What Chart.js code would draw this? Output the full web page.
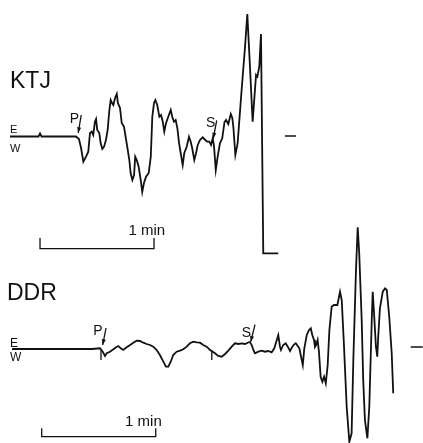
<!DOCTYPE html>
<html>
<head>
<meta charset="utf-8">
<script src="https://cdn.jsdelivr.net/npm/chart.js@4/dist/chart.umd.min.js"></script>
<style>
  html, body { margin: 0; padding: 0; background: #fff; }
  #wrap { width: 423px; height: 443px; }
</style>
</head>
<body>
<div id="wrap"><canvas id="seis" width="423" height="443"></canvas></div>
<script>
/* ── Datos ── */
// tiempo (s) desde el inicio del registro, amplitud sobre la línea base
const KTJ_T = [0, 15, 15.8, 16.6, 34.7, 36.3, 37.4, 38.6, 40.0, 41.2,
  42.1, 43.0, 43.8, 44.7, 45.3, 45.9, 47.0, 47.7, 48.6, 49.5,
  50.5, 51.4, 52.3, 53.0, 53.7, 54.4, 55.3, 56.2, 56.8, 57.9,
  58.8, 60.0, 60.7, 61.7, 62.8, 63.5, 64.4, 65.3, 65.9, 66.7,
  67.7, 68.8, 69.6, 70.5, 71.6, 73.0, 74.1, 74.9, 75.8, 76.5,
  77.5, 78.6, 79.5, 80.4, 81.2, 82.1, 83.3, 84.6, 85.4, 86.3,
  87.2, 88.1, 89.0, 90.0, 90.9, 91.7, 93.0, 94.2, 95.1, 95.9,
  97.0, 97.9, 98.8, 100.0, 101.4, 102.8, 103.8, 104.9, 105.8, 106.7,
  107.4, 108.3, 109.3, 110.5, 111.7, 112.9, 113.7, 114.9, 116.2, 117.0,
  117.6, 118.6, 119.8, 121.9, 123.7, 124.9, 126.3, 127.7, 129.5, 130.2,
  131.2, 132.1, 133.3, 141.2];
const KTJ_A = [0, 0, 3, 0, 0, -2.5, -11.5, -25.2, -20.2, -15.2,
  3.5, 4.8, 1.5, 14.8, 17.5, 6.5, 3.5, -6.5, -12.5, -10.2,
  -3.5, 6.5, 26.5, 36.5, 33.5, 31.5, 38.5, 42.5, 33.5, 28.5,
  13.5, 9.8, 1.5, -10.2, -23.5, -36.5, -43.5, -38.5, -20.2, -23.5,
  -30.2, -43.5, -55.5, -46.5, -40.2, -36.5, -20.2, 19.8, 33.5, 36.5,
  31.5, 19.8, 21.5, 14.8, 4.8, 13.2, 19.8, 26.5, 19.8, 14.8,
  16.5, 8.2, -6.8, -18.5, -28.5, -16.8, -10.2, -0.2, -5.2, -11.8,
  -23.5, -16.8, -8.5, -3.5, -0.8, -3.5, -5.2, -5.2, -8.5, -1.8,
  -10.2, -33.5, -20.2, -6.8, -1.8, 14.5, 16.5, 12.5, 22.5, 18.5,
  8.5, -18.5, -6.8, 46.5, 89.8, 122.5, 69.8, 14.8, 61.5, 59.8,
  69.8, 102.5, -116.8, -116.8];

const DDR_T = [1.1, 43.2, 47.4, 48.8, 50.0, 50.9, 52.6, 54.4, 55.8, 57.0,
  58.3, 59.6, 61.4, 63.2, 64.9, 66.7, 68.4, 70.2, 71.9, 73.7,
  75.4, 77.2, 78.9, 80.7, 82.1, 83.3, 84.6, 85.9, 87.7, 89.5,
  91.2, 93.0, 94.7, 96.5, 98.3, 100.0, 101.7, 103.5, 105.3, 107.9,
  109.6, 111.4, 113.2, 114.9, 116.7, 118.4, 120.2, 121.9, 123.7, 125.4,
  126.3, 127.2, 128.1, 128.9, 130.7, 132.5, 134.2, 135.9, 137.7, 139.1,
  140.4, 141.2, 142.1, 142.6, 143.8, 145.1, 146.2, 147.4, 148.6, 149.6,
  150.4, 152.3, 153.2, 154.1, 154.9, 156.2, 157.4, 158.3, 159.1, 160.0,
  160.5, 161.1, 161.9, 162.6, 163.5, 164.4, 165.3, 166.2, 167.2, 168.1,
  169.3, 170.5, 172.3, 173.7, 174.6, 175.8, 177.2, 178.6, 179.8, 180.7,
  182.1, 183.0, 183.8, 185.1, 185.9, 186.8, 188.1, 189.1, 190.4, 190.9,
  191.6, 192.6, 193.3, 193.8, 194.7, 196.2, 197.4, 198.3, 199.6, 200.9,
  201.7];
const DDR_A = [0, 0, 0.7, -2.7, -7, -4.3, -2.7, -0.3, 1.7, 3,
  0.7, -1, 1.7, 4, 6.3, 8.3, 8, 6.3, 5, 4,
  2.3, -1, -6, -12.7, -17.7, -17.7, -12.7, -6, -2.7, -1.7,
  -0.3, 2.3, 5.7, 7.3, 6.7, 6.3, 4, 2.3, -1, -4.3,
  -7, -7.7, -5, -1.7, 2.3, 5.7, 5, 5.7, 5, 6.5,
  7, 4, -1, -4.3, -2.7, -1.7, -2.7, -2, -3.3, 0.7,
  9, 14, 2.3, -1, 4, 5.7, 2.3, -2, 2.3, 4.7,
  5.7, 0.7, -7.7, -16, 0.7, 14, 19, 20.7, 14, 9,
  2.3, 4, 9, -2.7, -27.7, -32.7, -27.7, -34.3, -16, 19,
  42.3, 44, 44, 57.3, 49, 2.3, -57.7, -92.7, -84.3, -11,
  79, 121.7, 95.7, 29, -31, -71, -89.3, -57.7, 29, 57.3,
  35.7, 2.3, -7.7, 12.3, 40.7, 57.3, 60.7, 59, 32.3, -4.3,
  -44.3];

// marcas de tiempo bajo la traza DDR (s)
const DDR_MARK_T = [47.9, 106.2];
// llegadas de fases
const PHASE_NAMES = ['P', 'S', 'P', 'S'];
const PHASE_STA   = ['KTJ', 'KTJ', 'DDR', 'DDR'];
const PHASE_T     = [35.9, 107.0, 48.8, 126.7];
const PHASE_A     = [3.5, -1.8, 4, 7.3];

const STATIONS = ['KTJ', 'DDR'];
const BAR_SECONDS = 60;

const INK  = '#111';
const FONT = '"Liberation Sans", Arial, Helvetica, sans-serif';

/* ── Utilidades ── */
function pts(ts, as) {
  return ts.map((t, i) => ({ x: t, y: as[i] }));
}

function markPts() {
  const out = [];
  DDR_MARK_T.forEach((t, i) => {
    out.push({ x: t, y: i === 0 ? 0 : -1 }, { x: t, y: -11 }, { x: t, y: null });
  });
  return out;
}

function arrow(ctx, x1, y1, x2, y2) {
  ctx.beginPath();
  ctx.moveTo(x1, y1);
  ctx.lineTo(x2, y2);
  ctx.stroke();
  const ang = Math.atan2(y2 - y1, x2 - x1);
  ctx.beginPath();
  ctx.moveTo(x2, y2);
  ctx.lineTo(x2 - 6 * Math.cos(ang - 0.35), y2 - 6 * Math.sin(ang - 0.35));
  ctx.lineTo(x2 - 6 * Math.cos(ang + 0.35), y2 - 6 * Math.sin(ang + 0.35));
  ctx.closePath();
  ctx.fill();
}

/* ── Anotaciones: nombres, E/W, fases, escalas ── */
const notes = {
  id: 'notes',
  afterDatasetsDraw(chart) {
    const ctx = chart.ctx;
    const X = chart.scales.x;
    const Y = { KTJ: chart.scales.yK, DDR: chart.scales.yD };
    const px = t => X.getPixelForValue(t);

    ctx.save();
    ctx.fillStyle = INK;
    ctx.strokeStyle = INK;
    ctx.textAlign = 'left';
    ctx.textBaseline = 'alphabetic';

    // nombres de estación
    const nameAt = { KTJ: [0, 48.5], DDR: [-1.6, 49] };
    ctx.font = '23px ' + FONT;
    STATIONS.forEach(s => {
      ctx.fillText(s, px(nameAt[s][0]), Y[s].getPixelForValue(nameAt[s][1]));
    });

    // E / W
    const ew = { KTJ: [3.3, -6.5, 11], DDR: [2, -2.7, 12] };
    STATIONS.forEach(s => {
      const [e, w, size] = ew[s];
      ctx.font = size + 'px ' + FONT;
      ctx.textBaseline = 'alphabetic';
      ctx.fillText('E', px(0), Y[s].getPixelForValue(e));
      ctx.textBaseline = 'top';
      ctx.fillText('W', px(0), Y[s].getPixelForValue(w));
    });
    ctx.textBaseline = 'alphabetic';

    // fases con flecha
    const off = [[3, -18, -8.5, -10], [3.4, -18, -7.3, -11.6], [3.3, -17, -9.4, -10], [4.3, -17, -9, -5]];
    ctx.font = '14px ' + FONT;
    ctx.lineWidth = 1.3;
    PHASE_NAMES.forEach((p, i) => {
      const tx = px(PHASE_T[i]);
      const ty = Y[PHASE_STA[i]].getPixelForValue(PHASE_A[i]);
      const [ax, ay, lx, ly] = off[i];
      ctx.fillText(p, tx + lx, ty + ly);
      arrow(ctx, tx + ax, ty + ay, tx, ty);
    });

    // escala de 1 min
    const bar = { KTJ: [15.8, -112.2, -101.5, 72, -98.7], DDR: [16.7, -87.7, -79.3, 70.2, -76.7] };
    ctx.lineWidth = 1.3;
    ctx.font = '15px ' + FONT;
    ctx.textAlign = 'center';
    STATIONS.forEach(s => {
      const [t0, a0, a1, tl, al] = bar[s];
      const y0 = Y[s].getPixelForValue(a0);
      const y1 = Y[s].getPixelForValue(a1);
      const x0 = px(t0), x1 = px(t0 + BAR_SECONDS);
      ctx.beginPath();
      ctx.moveTo(x0, y1);
      ctx.lineTo(x0, y0);
      ctx.lineTo(x1, y0);
      ctx.lineTo(x1, y1);
      ctx.stroke();
      ctx.fillText('1 min', px(tl), Y[s].getPixelForValue(al));
    });

    // trazo de referencia a la derecha
    const dash = { KTJ: [144.7, 150.5, 0.5], DDR: [210.9, 217.2, 2] };
    ctx.lineWidth = 1.5;
    STATIONS.forEach(s => {
      const [t0, t1, a] = dash[s];
      const y = Y[s].getPixelForValue(a);
      ctx.beginPath();
      ctx.moveTo(px(t0), y);
      ctx.lineTo(px(t1), y);
      ctx.stroke();
    });
    ctx.restore();
  },
};

/* ── Sismogramas ── */
function initSeis() {
  const line = { borderColor: INK, borderWidth: 1.8, pointRadius: 0, tension: 0, fill: false };
  new Chart(document.getElementById('seis'), {
    type: 'line',
    data: {
      datasets: [
        { ...line, label: 'KTJ', data: pts(KTJ_T, KTJ_A), yAxisID: 'yK' },
        { ...line, label: 'DDR', data: pts(DDR_T, DDR_A), yAxisID: 'yD' },
        { ...line, label: 'marcas', data: markPts(), yAxisID: 'yD', borderWidth: 1.3, spanGaps: false },
      ],
    },
    options: {
      responsive: false,
      animation: false,
      layout: { padding: 0 },
      plugins: { legend: { display: false }, tooltip: { enabled: false } },
      scales: {
        x:  { type: 'linear', display: false, min: -5.263, max: 217.368 },
        yK: { type: 'linear', display: false, min: -306.5, max: 136.5 },
        yD: { type: 'linear', display: false, min: -94, max: 349 },
      },
    },
    plugins: [notes],
  });
}

/* ── Init ── */
document.addEventListener('DOMContentLoaded', initSeis);
</script>
</body>
</html>
